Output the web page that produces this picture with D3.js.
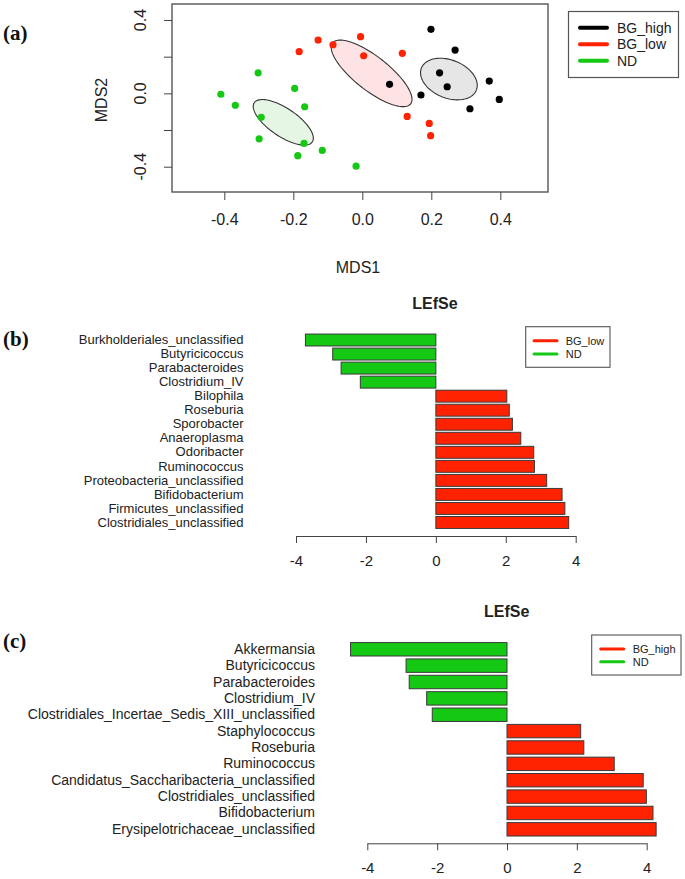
<!DOCTYPE html>
<html><head><meta charset="utf-8">
<script src="https://cdn.jsdelivr.net/npm/d3@7"></script>
<style>
body{margin:0;background:#fff}
svg{display:block}
text{font-family:"Liberation Sans",Arial,Helvetica,sans-serif;fill:#222}
</style>
</head><body>
<svg id="chart" width="685" height="879"></svg>
<script>
// ---------- Panel (a) data: NMDS ----------
const groups = ["BG_high", "BG_low", "ND"];
const bgHighX = [0.079, 0.170, 0.199, 0.224, 0.246, 0.269, 0.312, 0.368, 0.397];
const bgHighY = [0.049, -0.009, 0.349, 0.112, 0.036, 0.236, -0.084, 0.067, -0.033];
const bgLowX = [-0.183, -0.128, -0.085, -0.005, 0.004, 0.116, 0.130, 0.194, 0.198];
const bgLowY = [0.227, 0.291, 0.265, 0.309, 0.205, 0.218, -0.126, -0.164, -0.231];
const ndX = [-0.410, -0.368, -0.302, -0.293, -0.299, -0.196, -0.167, -0.169, -0.187, -0.116, -0.018];
const ndY = [-0.005, -0.065, 0.112, -0.131, -0.248, 0.027, -0.073, -0.273, -0.340, -0.311, -0.397];
// ellipse: centre and two conjugate semi-axis vectors (data units)
const ellipseCenter = [[0.251, 0.078], [0.027, 0.109], [-0.229, -0.158]];
const ellipseAxis1 = [[0.0796, -0.0605], [0.1131, -0.1663], [0.0841, -0.1069]];
const ellipseAxis2 = [[-0.0206, -0.0961], [-0.0303, -0.0731], [-0.0227, -0.0633]];
const mdsTicks = [-0.4, -0.2, 0.0, 0.2, 0.4];
const mdsYLabels = [-0.4, 0.0, 0.4];

// ---------- Panel (b) data ----------
const taxaB = ["Burkholderiales_unclassified", "Butyricicoccus", "Parabacteroides", "Clostridium_IV",
  "Bilophila", "Roseburia", "Sporobacter", "Anaeroplasma", "Odoribacter", "Ruminococcus",
  "Proteobacteria_unclassified", "Bifidobacterium", "Firmicutes_unclassified", "Clostridiales_unclassified"];
const ldaB = [-3.73, -2.95, -2.71, -2.16, 2.03, 2.10, 2.19, 2.43, 2.80, 2.82, 3.17, 3.61, 3.69, 3.80];
const legendB = ["BG_low", "ND"];

// ---------- Panel (c) data ----------
const taxaC = ["Akkermansia", "Butyricicoccus", "Parabacteroides", "Clostridium_IV",
  "Clostridiales_Incertae_Sedis_XIII_unclassified", "Staphylococcus", "Roseburia", "Ruminococcus",
  "Candidatus_Saccharibacteria_unclassified", "Clostridiales_unclassified", "Bifidobacterium",
  "Erysipelotrichaceae_unclassified"];
const ldaC = [-4.48, -2.89, -2.80, -2.30, -2.14, 2.11, 2.20, 3.07, 3.90, 3.99, 4.18, 4.27];
const legendC = ["BG_high", "ND"];
const ldaTicks = [-4, -2, 0, 2, 4];

// ---------- styles ----------
const colBlack = "#000000", colRed = "#ff2200", colGreen = "#14c814";
const groupColor = [colBlack, colRed, colGreen];
const ellipseFill = ["#e6e6e6", "#fde3e3", "#e6f6e4"];
const axisCol = "#444";

const svg = d3.select("#chart");

function styleAxis(g) {
  g.selectAll("path, line").attr("stroke", axisCol).attr("stroke-width", 1);
}

// ================= Panel (a) =================
{
  const x = d3.scaleLinear().domain([-0.4, 0.4]).range([224.3, 500.3]);
  const y = d3.scaleLinear().domain([-0.4, 0.4]).range([166.7, 20]);
  const box = {x0: 172, x1: 548, y0: 4, y1: 192};

  svg.append("rect").attr("x", box.x0).attr("y", box.y0)
    .attr("width", box.x1 - box.x0).attr("height", box.y1 - box.y0)
    .attr("fill", "none").attr("stroke", "#555").attr("stroke-width", 1.4);

  // bottom axis
  const gx = svg.append("g").attr("transform", `translate(0,${box.y1})`)
    .call(d3.axisBottom(x).tickValues(mdsTicks).tickSize(8).tickSizeOuter(0).tickPadding(14)
      .tickFormat(d => d.toFixed(1)));
  styleAxis(gx);
  gx.select(".domain").remove();
  gx.selectAll("text").attr("font-size", 16).attr("fill", "#222").attr("font-family", "Liberation Sans, Arial, sans-serif");

  // left axis
  const gy = svg.append("g").attr("transform", `translate(${box.x0},0)`)
    .call(d3.axisLeft(y).tickValues(mdsTicks).tickSize(8).tickSizeOuter(0).tickFormat(""));
  styleAxis(gy);
  gy.select(".domain").remove();
  svg.append("g").selectAll("text").data(mdsYLabels).join("text")
    .attr("transform", d => `translate(146,${y(d)}) rotate(-90)`)
    .attr("text-anchor", "middle").attr("font-size", 16).text(d => d.toFixed(1));

  svg.append("text").attr("x", 358).attr("y", 273).attr("text-anchor", "middle")
    .attr("font-size", 16).text("MDS1");
  svg.append("text").attr("transform", "translate(107,100) rotate(-90)")
    .attr("text-anchor", "middle").attr("font-size", 16).text("MDS2");

  svg.append("text").attr("x", 3).attr("y", 40).attr("font-size", 21).attr("font-weight", "bold")
    .style("font-family", "'Liberation Serif','Times New Roman',serif").style("fill", "#111").text("(a)");

  // ellipses
  const line = d3.line().curve(d3.curveLinearClosed);
  groups.forEach((g, i) => {
    const c = ellipseCenter[i], a = ellipseAxis1[i], b = ellipseAxis2[i];
    const pts = d3.range(0, 2 * Math.PI, Math.PI / 60).map(t => [
      x(c[0] + a[0] * Math.cos(t) + b[0] * Math.sin(t)),
      y(c[1] + a[1] * Math.cos(t) + b[1] * Math.sin(t))
    ]);
    svg.append("path").attr("d", line(pts)).attr("fill", ellipseFill[i])
      .attr("stroke", "#333").attr("stroke-width", 1.1);
  });

  // points
  const series = [[bgHighX, bgHighY], [bgLowX, bgLowY], [ndX, ndY]];
  series.forEach((s, i) => {
    svg.append("g").selectAll("circle").data(s[0]).join("circle")
      .attr("cx", d => x(d)).attr("cy", (d, j) => y(s[1][j])).attr("r", 3.6)
      .attr("fill", groupColor[i]);
  });

  // legend
  svg.append("rect").attr("x", 568.5).attr("y", 11.5).attr("width", 110).attr("height", 66)
    .attr("fill", "#fff").attr("stroke", "#555").attr("stroke-width", 1.2);
  groups.forEach((g, i) => {
    const yy = 27.7 + i * 16.5;
    svg.append("line").attr("x1", 580).attr("x2", 607).attr("y1", yy).attr("y2", yy)
      .attr("stroke", groupColor[i]).attr("stroke-width", 4).attr("stroke-linecap", "round");
    svg.append("text").attr("x", 617).attr("y", yy).attr("dy", "0.35em")
      .attr("font-size", 14).text(g);
  });
}

// ================= LEfSe panels =================
function lefse(opts) {
  const {taxa, vals, legend, x0, x4, bandTop, bandBot, pad, axisY, titleX, titleY,
         labelRight, labelSize, leg, tag, tagY} = opts;
  const x = d3.scaleLinear().domain([-4, 4]).range([x0, x4]);
  const y = d3.scaleBand().domain(taxa).range([bandTop, bandBot]).paddingInner(pad).paddingOuter(pad / 2);

  svg.append("text").attr("x", titleX).attr("y", titleY).attr("dy", "0.35em")
    .attr("text-anchor", "middle").attr("font-size", 16).attr("font-weight", "bold").text("LEfSe");

  svg.append("g").selectAll("rect").data(taxa).join("rect")
    .attr("x", (d, i) => Math.min(x(0), x(vals[i])))
    .attr("width", (d, i) => Math.abs(x(vals[i]) - x(0)))
    .attr("y", d => y(d)).attr("height", y.bandwidth())
    .attr("fill", (d, i) => vals[i] < 0 ? colGreen : colRed)
    .attr("stroke", "#3a3a3a").attr("stroke-width", 1);

  // category labels
  const gl = svg.append("g").attr("transform", `translate(${labelRight},0)`)
    .call(d3.axisLeft(y).tickSize(0).tickPadding(0));
  gl.select(".domain").remove();
  gl.selectAll("text").attr("font-size", labelSize).attr("fill", "#222")
    .attr("font-family", "Liberation Sans, Arial, sans-serif");

  // x axis
  const gx = svg.append("g").attr("transform", `translate(0,${axisY})`)
    .call(d3.axisBottom(x).tickValues(ldaTicks).tickSize(7).tickSizeOuter(0).tickPadding(12)
      .tickFormat(d => String(d)));
  styleAxis(gx);
  gx.selectAll("text").attr("font-size", 15).attr("fill", "#222")
    .attr("font-family", "Liberation Sans, Arial, sans-serif");

  // legend
  svg.append("rect").attr("x", leg.x).attr("y", leg.y).attr("width", leg.w).attr("height", leg.h)
    .attr("fill", "#fff").attr("stroke", "#555").attr("stroke-width", 1.1);
  legend.forEach((g, i) => {
    const yy = leg.ly + i * leg.dy;
    svg.append("line").attr("x1", leg.lx).attr("x2", leg.lx + 23).attr("y1", yy).attr("y2", yy)
      .attr("stroke", i === 0 ? colRed : colGreen).attr("stroke-width", 3).attr("stroke-linecap", "round");
    svg.append("text").attr("x", leg.tx).attr("y", yy).attr("dy", "0.35em")
      .attr("font-size", 11).text(g);
  });

  svg.append("text").attr("x", 3).attr("y", tagY).attr("dy", "0.35em").attr("font-size", 21)
    .attr("font-weight", "bold").style("font-family", "'Liberation Serif','Times New Roman',serif")
    .style("fill", "#111").text(tag);
}

lefse({taxa: taxaB, vals: ldaB, legend: legendB, x0: 296, x4: 575.7,
  bandTop: 333, bandBot: 529.5, pad: 0.15, axisY: 536, titleX: 435, titleY: 303,
  labelRight: 243.5, labelSize: 13, tag: "(b)", tagY: 339,
  leg: {x: 525.7, y: 326.7, w: 84.3, h: 40.6, lx: 534, ly: 340.7, dy: 13.3, tx: 565.7}});

lefse({taxa: taxaC, vals: ldaC, legend: legendC, x0: 367.3, x4: 646.7,
  bandTop: 641.1, bandBot: 837.5, pad: 0.18, axisY: 843.3, titleX: 506.7, titleY: 611.7,
  labelRight: 315, labelSize: 14, tag: "(c)", tagY: 641,
  leg: {x: 591.7, y: 635, w: 89.3, h: 40, lx: 600.7, ly: 649, dy: 12.7, tx: 632.7}});
</script>
</body></html>
